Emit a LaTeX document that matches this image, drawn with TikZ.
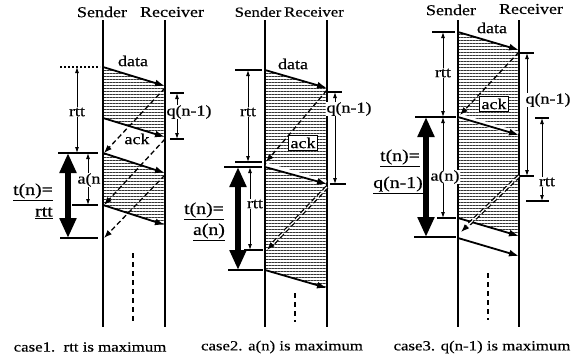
\documentclass[tikz,border=0pt]{standalone}
\usepackage{fontspec}
\setmainfont{Liberation Serif}[FakeStretch=1.2,FakeBold=0.4]
\usetikzlibrary{arrows.meta,patterns.meta}
\begin{document}
\begin{tikzpicture}[x=1pt,y=-1pt,
  txt/.style={font=\fontsize{15}{17}\selectfont, inner sep=0.5pt},
  smalltxt/.style={font=\fontsize{14}{15}\selectfont, inner sep=0.5pt},
  captxt/.style={font=\fontsize{14}{16}\selectfont, inner sep=0.5pt},
  ttxt/.style={font=\fontsize{16.5}{18}\selectfont, inner sep=0.5pt},
  wtxt/.style={txt, fill=white},
  life/.style={line width=1.3pt},
  hatch/.style={pattern={Lines[angle=0,distance=3pt,line width=1pt]}, pattern color=black!80},
  msg/.style={line width=1.8pt, -{Latex[length=10pt,width=7pt]}},
  halo/.style={line width=5pt, white},
  ackarr/.style={dash pattern=on 5pt off 3pt, line width=1.3pt, -{Latex[length=8pt,width=6pt]}},
  dackarr/.style={ackarr, double, double distance=1.2pt},
  dim/.style={line width=0.9pt, {Latex[length=6pt,width=4pt]}-{Latex[length=6pt,width=4pt]}},
  tick/.style={line width=1.1pt},
  big/.style={line width=5.5pt, {Triangle[length=20pt,width=16pt]}-{Triangle[length=20pt,width=16pt]}},
  dots/.style={line width=1.8pt, dash pattern=on 5pt off 4pt},
  ackbox/.style={txt, draw, line width=1pt, fill=white, inner sep=2pt}
]
\useasboundingbox (0,0) rectangle (574,362);

% ================= case 1 =================
\fill[hatch] (103,67) -- (165,86) -- (165,137) -- (103,118) -- cycle;
\fill[hatch] (103,153) -- (165,173) -- (165,225) -- (103,205) -- cycle;
\draw[life] (103,20) -- (103,327);
\draw[life] (165,20) -- (165,327);
\node[txt] (s1) at (102,12) {Sender};
\node[txt] (r1) at (172,12) {Receiver};
\draw[msg] (103,67) -- (165,86);
\draw[msg] (103,118) -- (165,137);
\draw[msg] (103,153) -- (165,173);
\draw[msg] (103,205) -- (165,225);
\draw[ackarr] (165,88) -- (104,153);
\draw[ackarr] (165,139) -- (104,205);
\draw[ackarr] (165,175) -- (104,238);
\node[txt] (data1) at (133,61) {data};
\node[txt] (ack1) at (137,139) {ack};
% left annotations
\draw[tick, dash pattern=on 2pt off 2pt] (60,67) -- (100,67);
\draw[dim] (77,67) -- (77,153);
\node[wtxt] (rtt1) at (77,112) {rtt};
\draw[tick, line width=1.5pt] (58,153) -- (98,153);
\draw[dim] (88,153) -- (88,205);
\node[wtxt] (an1) at (89,180) {a(n};
\draw[tick] (72,205) -- (98,205);
\draw[big] (68,153) -- (68,238);
\draw[tick] (60,238) -- (98,238);
\node[ttxt] (t1) at (33,192) {\underline{t(n)=}};
\node[ttxt] (t1b) at (44,213) {\underline{rtt}};
% q(n-1)
\draw[tick] (170,93) -- (184,93);
\draw[tick] (170,139) -- (184,139);
\draw[dim] (177,93) -- (177,139);
\node[wtxt] (q1) at (189,112) {q(n-1)};
\draw[dots] (133,253) -- (133,324);
\node[captxt] (c1) at (90,347) {case1.\ \ rtt is maximum};

% ================= case 2 =================
\fill[hatch] (265,70) -- (327,88) -- (327,288) -- (265,270) -- cycle;
\draw[life] (265,20) -- (265,327);
\draw[life] (327,20) -- (327,327);
\node[smalltxt] (s2) at (258,12) {Sender};
\node[smalltxt] (r2) at (314,12) {Receiver};
\draw[msg] (265,70) -- (327,88);
\draw[halo] (266,165) -- (326,183);
\draw[msg] (265,167) -- (327,184);
\draw[msg] (265,270) -- (327,288);
\draw[ackarr] (327,90) -- (266,162);
\draw[dackarr] (327,187) -- (267,250);
\node[txt] (data2) at (293,64) {data};
\node[ackbox] (ack2) at (303,143) {ack};
% left annotations
\draw[tick] (235,70) -- (262,70);
\draw[dim] (248,70) -- (248,162);
\node[wtxt] (rtt2) at (248,112) {rtt};
\draw[tick] (235,162) -- (262,162);
\draw[tick, line width=1.5pt] (224,167) -- (262,167);
\draw[big] (238,167) -- (238,270);
\draw[dim] (250,167) -- (250,250);
\node[wtxt] (rtt2b) at (255,204) {rtt};
\draw[tick] (244,250) -- (263,250);
\draw[tick] (228,270) -- (263,270);
\node[ttxt] (t2) at (204,211) {\underline{t(n)=}};
\node[ttxt] (t2b) at (209,232) {\underline{a(n)}};
% q(n-1)
\draw[tick] (328,92) -- (342,92);
\draw[tick] (330,184) -- (346,184);
\draw[dim] (335,92) -- (335,184);
\node[wtxt] (q2) at (349,109) {q(n-1)};
\draw[dots] (295,293) -- (295,322);
\node[captxt] (c2) at (282,347) {case2. a(n) is maximum};

% ================= case 3 =================
\fill[hatch] (458,32) -- (519,50) -- (519,236) -- (458,218) -- cycle;
\draw[life] (458,20) -- (458,327);
\draw[life] (519,20) -- (519,327);
\node[txt] (s3) at (451,10) {Sender};
\node[txt] (r3) at (531,9) {Receiver};
\draw[msg] (458,32) -- (519,50);
\draw[halo] (459,116) -- (518,134);
\draw[msg] (458,117) -- (519,135);
\draw[msg] (458,218) -- (519,236);
\draw[msg] (458,238) -- (519,256);
\draw[ackarr] (519,52) -- (460,115);
\draw[dackarr] (519,176) -- (461,232);
\node[txt] (data3) at (492,28) {data};
\node[ackbox] (ack3) at (494,104) {ack};
% left annotations
\draw[tick] (432,32) -- (455,32);
\draw[dim] (443,32) -- (443,117);
\node[wtxt] (rtt3) at (443,73) {rtt};
\draw[tick, line width=1.5pt] (415,117) -- (456,117);
\draw[dim] (443,117) -- (443,218);
\node[wtxt] (an3) at (445,177) {a(n)};
\draw[tick] (437,218) -- (456,218);
\draw[big] (426,117) -- (426,237);
\draw[tick] (414,237) -- (456,237);
\node[ttxt] (t3) at (400,158) {\underline{t(n)=}};
\node[ttxt] (t3b) at (398,185) {\underline{q(n-1)}};
% right annotations
\draw[tick] (519,53) -- (534,53);
\draw[tick] (520,176) -- (534,176);
\draw[dim] (527,53) -- (527,176);
\node[wtxt] (q3) at (548,100) {q(n-1)};
\draw[tick] (535,118) -- (549,118);
\draw[tick] (526,201) -- (549,201);
\draw[dim] (542,118) -- (542,201);
\node[wtxt] (rtt3b) at (547,182) {rtt};
\draw[dots] (488,273) -- (488,320);
\node[captxt] (c3) at (482,347) {case3. q(n-1) is maximum};
\end{tikzpicture}
\end{document}
